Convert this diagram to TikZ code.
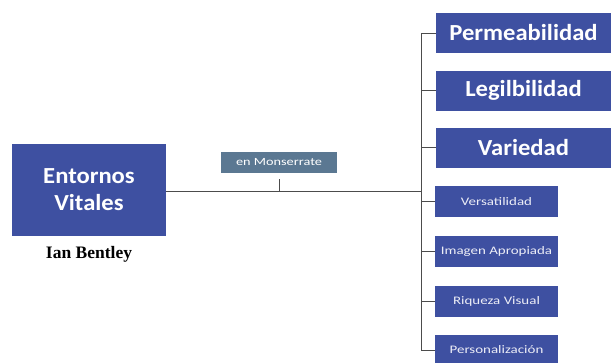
\documentclass[tikz,border=0pt]{standalone}
\usepackage{fontspec}
\setmainfont{Carlito}
\newfontfamily\timesf{Liberation Serif}
\newfontfamily\anchag[FakeStretch=1.07]{Carlito}
\newfontfamily\anchac[FakeStretch=1.3]{Carlito}
\usetikzlibrary{calc}
\definecolor{azul}{HTML}{3E50A1}
\definecolor{gris}{HTML}{5B7892}
\tikzset{
  caja/.style={fill=azul, text=white, inner sep=0pt},
  grande/.style={caja, minimum width=175pt, minimum height=40pt, font=\anchag\bfseries\fontsize{23}{25}\selectfont},
  chica/.style={caja, text=white!90!azul, minimum width=123pt, minimum height=31pt, font=\anchac\fontsize{11.5}{13}\selectfont},
  linea/.style={draw=black!70, line width=.6pt}
}
\begin{document}
\begin{tikzpicture}[x=1pt, y=-1pt]
    \useasboundingbox (0, 0) rectangle (611, 362);
    \def\bus{421}
    \node[caja, minimum width=154pt, minimum height=92pt, align=center,
      font=\anchag\bfseries\fontsize{23}{27}\selectfont] (entornos) at (89, 190) {Entornos\\Vitales};
    \node[font=\timesf\bfseries\fontsize{17.5}{19}\selectfont] (autor) at (89, 254) {Ian Bentley};
    \node[caja, fill=gris, minimum width=116pt, minimum height=21pt,
      font=\anchac\fontsize{11}{12}\selectfont] (lugar) at (279, 162.5) {en Monserrate};

    \node[grande] (perm) at (523.5, 33) {Permeabilidad};
    \node[grande] (legi) at (523.5, 90.5) {Legilbilidad};
    \node[grande] (vari) at (523.5, 147.5) {Variedad};
    \node[chica] (vers) at (496.5, 201.5) {Versatilidad};
    \node[chica] (imag) at (496.5, 251.5) {Imagen Apropiada};
    \node[chica] (riqu) at (496.5, 301.5) {Riqueza Visual};
    \node[chica] (pers) at (496.5, 350) {Personalización};

    \coordinate (union) at (\bus, 191);
    \coordinate (pie) at (279, 191);
    \draw[linea] (entornos.east |- union) -- (union);
    \draw[linea] (lugar.south) ++(0, 6) -- (pie);
    \draw[linea] (\bus, 33) -- (\bus, 350);
    \draw[linea] (\bus, 33) -- (perm.west);
    \draw[linea] (\bus, 90.5) -- (legi.west);
    \draw[linea] (\bus, 147.5) -- (vari.west);
    \draw[linea] (\bus, 201.5) -- (vers.west);
    \draw[linea] (\bus, 251.5) -- (imag.west);
    \draw[linea] (\bus, 301.5) -- (riqu.west);
    \draw[linea] (\bus, 350) -- (pers.west);
\end{tikzpicture}
\end{document}
